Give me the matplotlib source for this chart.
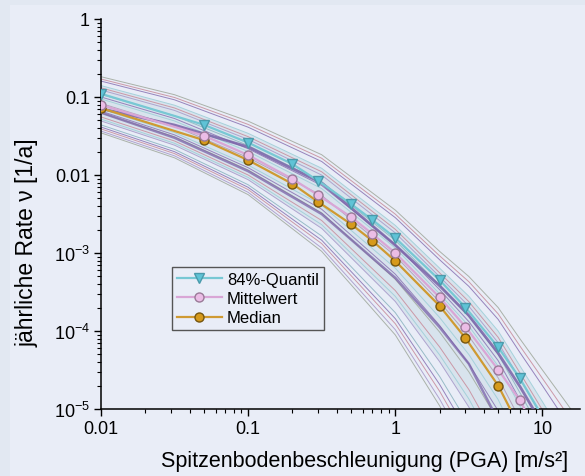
import matplotlib
matplotlib.use("Agg")
import matplotlib.pyplot as plt
from matplotlib.patches import Rectangle
from matplotlib.ticker import LogLocator, NullFormatter

plt.rcParams['font.family'] = ['Liberation Sans', 'DejaVu Sans']
plt.rcParams['mathtext.fontset'] = 'custom'
plt.rcParams['mathtext.rm'] = 'Liberation Sans'
plt.rcParams['mathtext.it'] = 'Liberation Sans:italic'

# PGA [m/s^2] where the marked curves have points
pga = [0.01, 0.05, 0.1, 0.2, 0.3, 0.5, 0.7, 1, 2, 3, 5, 7, 10]
quantil84 = [0.11, 0.044, 0.026, 0.0138, 8.4e-3, 4.25e-3, 2.65e-3, 1.56e-3, 4.5e-4, 2.0e-4, 6.2e-5, 2.5e-5, 8e-6]
mittelwert = [0.079, 0.032, 0.018, 8.9e-3, 5.5e-3, 2.9e-3, 1.75e-3, 1.0e-3, 2.7e-4, 1.13e-4, 3.2e-5, 1.3e-5, 3.7e-6]
median = [0.072, 0.028, 0.0155, 7.7e-3, 4.5e-3, 2.35e-3, 1.43e-3, 7.9e-4, 2.1e-4, 8.1e-5, 2.0e-5, 5.8e-6, 1.5e-6]

# logic-tree branches (thin curves), read at these PGA values
pga_grid = [0.01, 0.0316, 0.1, 0.316, 1, 2, 3.16, 5, 7.08, 10, 14.1, 20]
branches = [
    [0.182, 0.107, 0.049, 0.0182, 3.55e-3, 1.05e-3, 5.0e-4, 2.0e-4, 7.8e-5, 3.16e-5, 1.3e-5, 5.2e-6],
    [0.170, 0.0986, 0.0445, 0.0164, 3.15e-3, 9.2e-4, 4.29e-4, 1.66e-4, 6.3e-5, 2.47e-5, 9.7e-6, 3.73e-6],
    [0.160, 0.092, 0.041, 0.0149, 2.84e-3, 8.2e-4, 3.74e-4, 1.41e-4, 5.2e-5, 1.99e-5, 7.5e-6, 2.8e-6],
    [0.140, 0.0785, 0.0342, 0.0122, 2.26e-3, 6.4e-4, 2.79e-4, 1.0e-4, 3.5e-5, 1.24e-5, 4.3e-6, 1.46e-6],
    [0.131, 0.0723, 0.031, 0.011, 2.01e-3, 5.57e-4, 2.38e-4, 8.3e-5, 2.84e-5, 9.7e-6, 3.2e-6, 1.04e-6],
    [0.123, 0.0673, 0.0286, 9.98e-3, 1.81e-3, 4.97e-4, 2.08e-4, 7.08e-5, 2.36e-5, 7.8e-6, 2.48e-6, 7.7e-7],
    [0.108, 0.0575, 0.0239, 8.2e-3, 1.45e-3, 3.87e-4, 1.55e-4, 5.0e-5, 1.58e-5, 4.9e-6, 1.43e-6, 4.1e-7],
    [0.100, 0.053, 0.0217, 7.35e-3, 1.28e-3, 3.39e-4, 1.32e-4, 4.17e-5, 1.28e-5, 3.8e-6, 1.06e-6, 2.9e-7],
    [0.0944, 0.0493, 0.020, 6.7e-3, 1.16e-3, 3.0e-4, 1.16e-4, 3.55e-5, 1.07e-5, 3.1e-6, 8.2e-7, 2.15e-7],
    [0.0828, 0.0422, 0.0167, 5.47e-3, 9.2e-4, 2.36e-4, 8.6e-5, 2.51e-5, 7.2e-6, 1.93e-6, 4.7e-7, 1.14e-7],
    [0.0701, 0.035, 0.0134, 4.11e-3, 6.4e-4, 1.49e-4, 5.0e-5, 1.32e-5, 3.47e-6, 8.5e-7, 1.9e-7, 4.1e-8],
    [0.0659, 0.0327, 0.0124, 3.64e-3, 5.36e-4, 1.18e-4, 3.8e-5, 9.5e-6, 2.4e-6, 5.7e-7, 1.2e-7, 2.5e-8],
    [0.0624, 0.0309, 0.0116, 3.27e-3, 4.6e-4, 9.7e-5, 3.0e-5, 7.1e-6, 1.74e-6, 4e-7, 8.2e-8, 1.66e-8],
    [0.0555, 0.0273, 0.0100, 2.61e-3, 3.3e-4, 6.25e-5, 1.78e-5, 3.8e-6, 8.7e-7, 1.9e-7, 3.6e-8, 6.8e-9],
    [0.0521, 0.0255, 9.3e-3, 2.31e-3, 2.78e-4, 4.95e-5, 1.35e-5, 2.73e-6, 6e-7, 1.24e-7, 2.3e-8, 4.2e-9],
    [0.0493, 0.0241, 8.7e-3, 2.07e-3, 2.39e-4, 4.05e-5, 1.06e-5, 2.04e-6, 4.4e-7, 8.7e-8, 1.57e-8, 2.75e-9],
    [0.0439, 0.0213, 7.5e-3, 1.65e-3, 1.72e-4, 2.62e-5, 6.3e-6, 1.1e-6, 2.2e-7, 4.1e-8, 6.8e-9, 1.1e-9],
    [0.0412, 0.0199, 6.95e-3, 1.46e-3, 1.44e-4, 2.07e-5, 4.8e-6, 7.9e-7, 1.5e-7, 2.7e-8, 4.4e-9, 7e-10],
    [0.039, 0.0188, 6.5e-3, 1.32e-3, 1.24e-4, 1.69e-5, 3.76e-6, 5.9e-7, 1.1e-7, 1.9e-8, 3e-9, 4.6e-10],
    [0.0366, 0.0176, 6.0e-3, 1.16e-3, 1.04e-4, 1.34e-5, 2.85e-6, 4.2e-7, 7.6e-8, 1.3e-8, 1.9e-9, 2.8e-10],
    [0.0347, 0.0166, 5.6e-3, 1.05e-3, 8.9e-5, 1.1e-5, 2.24e-6, 3.2e-7, 5.5e-8, 8.9e-9, 1.3e-9, 1.9e-10],
]
# two branches drawn heavier
branch_upper = [0.071, 0.0437, 0.0229, 7.9e-3, 1.26e-3, 3.8e-4, 1.58e-4, 5.2e-5, 1.9e-5, 6.3e-6, 1.8e-6, 4.5e-7]
branch_lower = [0.063, 0.030, 0.0112, 3.16e-3, 4.8e-4, 1.12e-4, 3.8e-5, 7.1e-6, 1.6e-6, 3.2e-7, 6.3e-8, 1e-8]

branch_colors = ['#a3aba0', '#c9909f', '#8d78b6', '#9fcfd8', '#c9909f', '#a99ccb', '#8fb6c2',
                 '#8d78b6', '#9fcfd8', '#b39bb8', '#9fcfd8', '#8d78b6', '#a3aba0', '#c9909f',
                 '#9fcfd8', '#a99ccb', '#8fb6c2', '#8d78b6', '#c9909f', '#a99ccb', '#a3aba0']

fig = plt.figure(figsize=(5.85, 4.77), dpi=100)
fig.patch.set_facecolor('#e2e8f2')
fig.add_artist(Rectangle((10 / 585, 0), 1, 471 / 477, transform=fig.transFigure,
                         facecolor='#e9edf7', edgecolor='none', zorder=-10))
ax = fig.add_axes([101 / 585, 67 / 477, 479 / 585, 390 / 477])
ax.set_facecolor('#e9edf7')

ax.fill_between(pga_grid, branches[3], branches[15], color='#a9c9d2', alpha=0.25,
                lw=0, zorder=1)
for vals, c in zip(branches, branch_colors):
    ax.plot(pga_grid, vals, color=c, lw=0.7, alpha=0.9, zorder=2)
ax.plot(pga_grid, branch_upper, color='#7a62a8', lw=2.0, alpha=0.85, zorder=3)
ax.plot(pga_grid, branch_lower, color='#7a62a8', lw=1.8, alpha=0.75, zorder=3)

ax.plot(pga, quantil84, color='#78c8d4', lw=1.6, marker='v', ms=7.5,
        mfc='#5fc3d6', mec='#4a9aab', label='84%-Quantil', zorder=5)
ax.plot(pga, mittelwert, color='#d9a6d6', lw=1.6, marker='o', ms=6.5,
        mfc='#ebbde6', mec='#9a7a98', label='Mittelwert', zorder=6)
ax.plot(pga, median, color='#cf9a32', lw=1.6, marker='o', ms=6.5,
        mfc='#d69a1c', mec='#76560e', label='Median', zorder=5)

ax.set_xscale('log')
ax.set_yscale('log')
ax.set_xlim(0.01, 18)
ax.set_ylim(1e-5, 1)

ax.set_xticks([0.01, 0.1, 1, 10])
ax.set_xticklabels(['0.01', '0.1', '1', '10'])
ax.set_yticks([1e-5, 1e-4, 1e-3, 0.01, 0.1, 1])
ax.set_yticklabels([r'$10^{-5}$', r'$10^{-4}$', r'$10^{-3}$', '0.01', '0.1', '1'])
ax.xaxis.set_minor_locator(LogLocator(base=10, subs=range(2, 10)))
ax.yaxis.set_minor_locator(LogLocator(base=10, subs=range(2, 10)))
ax.xaxis.set_minor_formatter(NullFormatter())
ax.yaxis.set_minor_formatter(NullFormatter())
ax.tick_params(which='major', direction='out', length=5, width=1, labelsize=13, pad=3)
ax.tick_params(which='minor', direction='out', length=3, width=0.8)

for s in ['top', 'right']:
    ax.spines[s].set_visible(False)
for s in ['left', 'bottom']:
    ax.spines[s].set_linewidth(1.1)

ax.set_xlabel('Spitzenbodenbeschleunigung (PGA) [m/s²]', fontsize=15.5)
ax.xaxis.set_label_coords(0.55, -0.105)
ax.set_ylabel('jährliche Rate ν [1/a]', fontsize=16.5)
ax.yaxis.set_label_coords(-0.131, 0.43)

leg = ax.legend(loc='upper left', bbox_to_anchor=(0.148, 0.364), fontsize=12,
                frameon=True, fancybox=False, edgecolor='#555555', facecolor='#e9edf7',
                framealpha=1, handlelength=2.7, handletextpad=0.3, labelspacing=0.25,
                borderpad=0.3, borderaxespad=0)
leg.get_frame().set_linewidth(1.0)

fig.savefig('out.png', dpi=100, facecolor=fig.get_facecolor())
